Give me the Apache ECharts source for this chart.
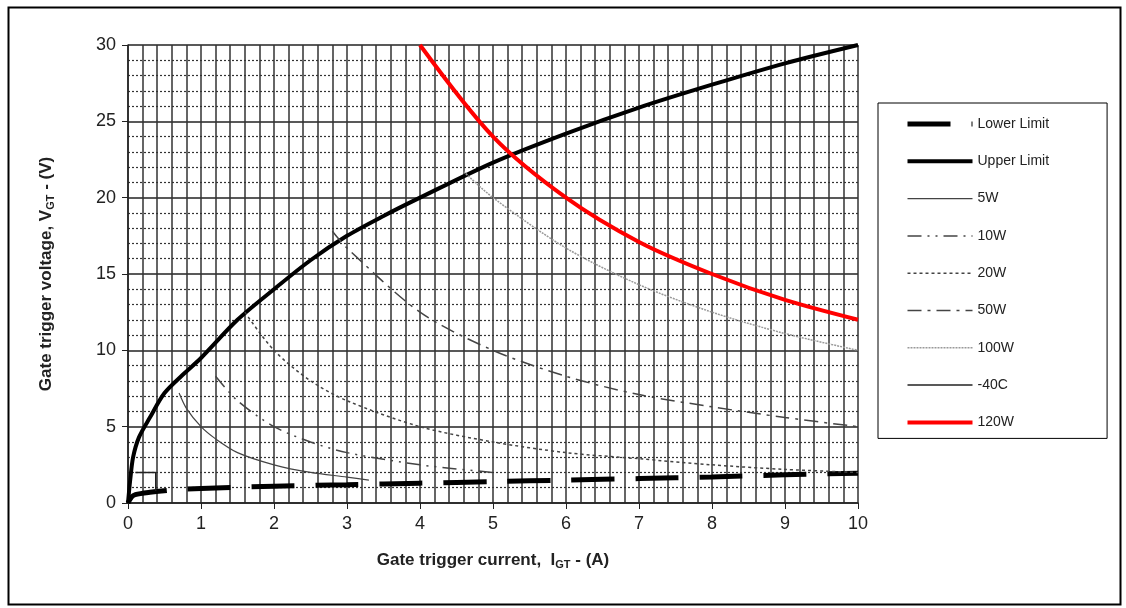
<!DOCTYPE html>
<html>
<head>
<meta charset="utf-8">
<script src="https://cdn.jsdelivr.net/npm/echarts@6/dist/echarts.min.js"></script>
<style>
  html, body { margin: 0; padding: 0; background: #fff; }
  #chart { width: 1126px; height: 608px; }
</style>
</head>
<body>
<div id="chart"></div>
<script>
// 曲线数据 (I, V) 从图上读出
var lowerLimit = [[0,0],[0.05,0.4],[0.1,0.55],[0.3,0.7],[0.6,0.85],[1,0.95],[2,1.1],[3,1.2],[4,1.3],[5,1.4],[6,1.5],[7,1.6],[8,1.7],[9,1.85],[10,1.95]];
var upperLimit = [[0,0],[0.03,1.5],[0.07,3],[0.15,4.3],[0.3,5.6],[0.5,7.2],[0.75,8.4],[1,9.5],[1.5,12],[2,14],[2.5,15.9],[3,17.5],[3.5,18.8],[4,20],[5,22.3],[6,24.2],[7,25.9],[8,27.4],[9,28.8],[10,30]];
var w5 = [[0.7,7.2],[0.8,6.2],[1,5],[1.2,4.2],[1.5,3.3],[2,2.5],[2.5,2],[3,1.7],[3.3,1.5]];
var w10 = [[1.2,8.3],[1.5,6.7],[2,5],[2.5,4],[3,3.3],[4,2.5],[5,2]];
var w20 = [[1.6,12.5],[2,10],[2.5,8],[3,6.7],[4,5],[5,4],[6,3.3],[7,2.9],[8,2.5],[9,2.2],[10,2]];
var w50 = [[2.8,17.8],[3,16.7],[4,12.5],[5,10],[6,8.3],[7,7.1],[8,6.3],[9,5.6],[10,5]];
var w100 = [[4.6,21.7],[5,20],[6,16.7],[7,14.3],[8,12.5],[9,11.1],[10,10]];
var c40 = [[0.1,2],[0.38,2],[0.38,0.8]];
var w120 = [[4,30],[5,24],[6,20],[7,17.1],[8,15],[9,13.3],[10,12]];
var seriesNames = ['Lower Limit','Upper Limit','5W','10W','20W','50W','100W','-40C','120W'];

var myChart = echarts.init(document.getElementById('chart'));
var font = '"Liberation Sans", Arial, sans-serif';

function line(name, data, style, smooth) {
  return {
    name: name, type: 'line', data: data, symbol: 'none',
    smooth: smooth === undefined ? 0.3 : smooth,
    lineStyle: style, itemStyle: { color: style.color },
    emphasis: { disabled: true }
  };
}

var option = {
  animation: false,
  backgroundColor: '#fff',
  textStyle: { fontFamily: font },
  grid: { left: 128, right: 268, top: 45, bottom: 105 },
  graphic: [{
    type: 'rect', left: 6, top: 5,
    shape: { width: 1112, height: 597 },
    style: { fill: 'none', stroke: '#000', lineWidth: 2 }
  }],
  legend: {
    orient: 'vertical', left: 878, top: 103,
    padding: [14, 58, 9, 27],
    itemWidth: 65, itemHeight: 14, itemGap: 23.3,
    borderColor: '#000', borderWidth: 1,
    data: seriesNames,
    itemStyle: { opacity: 0 },
    lineStyle: { width: 'inherit' },
    textStyle: { fontFamily: font, fontSize: 14, color: '#222' }
  },
  xAxis: {
    type: 'value', min: 0, max: 10, interval: 1,
    name: 'Gate trigger current,  I{s|GT} - (A)',
    nameLocation: 'middle', nameGap: 48,
    nameTextStyle: {
      fontFamily: font, fontSize: 17, fontWeight: 'bold', color: '#222',
      rich: { s: { fontSize: 11, fontWeight: 'bold', padding: [8, 0, 0, 0], fontFamily: font } }
    },
    axisLine: { lineStyle: { color: '#222', width: 1.5 } },
    axisTick: { show: true, length: 6, lineStyle: { color: '#222' } },
    axisLabel: { fontSize: 18, color: '#222', margin: 12 },
    splitLine: { show: true, lineStyle: { color: '#333', width: 1.5 } },
    minorTick: { show: false, splitNumber: 5 },
    minorSplitLine: { show: true, lineStyle: { color: '#333', width: 1.5 } }
  },
  yAxis: {
    type: 'value', min: 0, max: 30, interval: 5,
    name: 'Gate trigger voltage, V{s|GT} - (V)',
    nameLocation: 'middle', nameGap: 72, nameRotate: 90,
    nameTextStyle: {
      fontFamily: font, fontSize: 17, fontWeight: 'bold', color: '#222',
      rich: { s: { fontSize: 11, fontWeight: 'bold', padding: [8, 0, 0, 0], fontFamily: font } }
    },
    axisLine: { show: true, lineStyle: { color: '#222', width: 1.5 } },
    axisTick: { show: true, length: 6, lineStyle: { color: '#222' } },
    axisLabel: { fontSize: 18, color: '#222', margin: 12 },
    splitLine: { show: true, lineStyle: { color: '#222', width: 1.5 } },
    minorTick: { show: false, splitNumber: 5 },
    minorSplitLine: { show: true, lineStyle: { color: '#333', width: 1.2, type: [2, 2] } }
  },
  series: [
    line('Lower Limit', lowerLimit, { color: '#000', width: 5, type: [43, 21] }),
    line('Upper Limit', upperLimit, { color: '#000', width: 4 }),
    line('5W', w5, { color: '#444', width: 1.2 }),
    line('10W', w10, { color: '#444', width: 1.5, type: [14, 6, 2, 6, 2, 6] }),
    line('20W', w20, { color: '#444', width: 1.5, type: [3, 3] }),
    line('50W', w50, { color: '#444', width: 1.5, type: [14, 6, 3, 6] }),
    line('100W', w100, { color: '#999', width: 1.5, type: [2, 1] }),
    line('-40C', c40, { color: '#222', width: 1.5 }, false),
    line('120W', w120, { color: '#ff0000', width: 4 })
  ]
};

myChart.setOption(option);
</script>
</body>
</html>
